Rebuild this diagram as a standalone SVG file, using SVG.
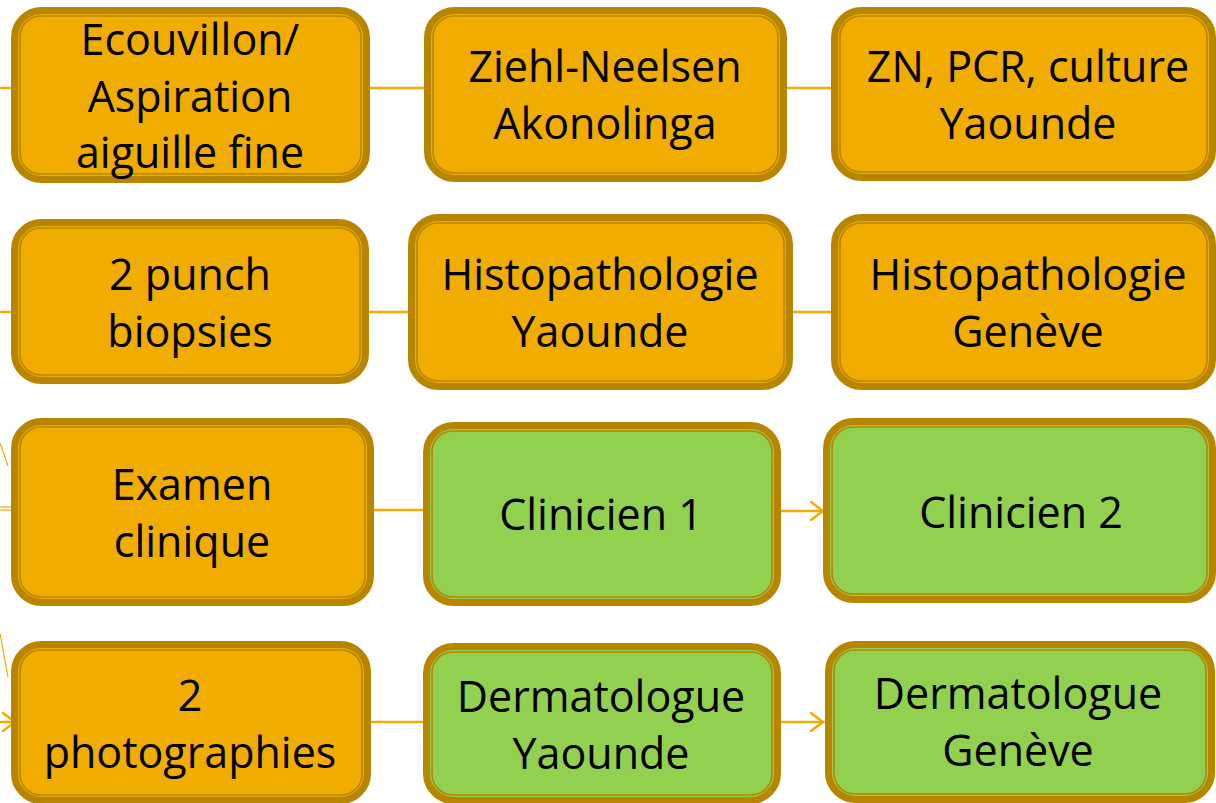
<svg xmlns="http://www.w3.org/2000/svg" width="1216" height="803" viewBox="0 0 1216 803">
<style>
.box-o{fill:#F0AC00;stroke:#B78500;stroke-width:7}
.box-g{fill:#92D050;stroke:#B78500;stroke-width:7}
.inner{fill:none;stroke:#B78500;stroke-width:1.6}
.conn{stroke:#F0AC00;stroke-width:2.5;fill:none}
.thin{stroke:#F0AC00;stroke-width:1.2;fill:none}
text{font-family:"Open Sans","Liberation Sans",sans-serif;font-size:43px;fill:#000;text-anchor:middle}
</style>
<defs>
<marker id="arr" markerWidth="16" markerHeight="20" refX="13" refY="10" orient="auto" markerUnits="userSpaceOnUse">
<path d="M1,1 L13,10 L1,19" fill="none" stroke="#F0AC00" stroke-width="2.5" stroke-linecap="round"/>
</marker>
</defs>
<g id="connectors">
<line class="conn" x1="0" y1="88" x2="12" y2="88"/>
<line class="conn" x1="369" y1="88" x2="425" y2="88"/>
<line class="conn" x1="786" y1="88" x2="832" y2="88"/>
<line class="conn" x1="0" y1="312" x2="12" y2="312"/>
<line class="conn" x1="368" y1="312" x2="409" y2="312"/>
<line class="conn" x1="792" y1="312" x2="832" y2="312"/>
<line class="thin" x1="0" y1="443" x2="8" y2="466"/>
<line class="thin" x1="0" y1="507" x2="20" y2="507"/>
<line class="thin" x1="0" y1="510" x2="20" y2="510"/>
<line class="conn" x1="373" y1="510" x2="424" y2="510"/>
<line class="conn" x1="780" y1="511" x2="823" y2="511" marker-end="url(#arr)"/>
<line class="thin" x1="0" y1="633" x2="8" y2="677"/>
<line class="conn" x1="0" y1="722" x2="15" y2="722" marker-end="url(#arr)"/>
<line class="conn" x1="370" y1="722" x2="424" y2="722"/>
<line class="conn" x1="780" y1="722" x2="823" y2="722" marker-end="url(#arr)"/>
</g>
<g id="n-ecouvillon">
<rect class="box-o" x="14.5" y="10.5" width="352" height="169" rx="27"/>
<rect class="inner" x="20" y="16" width="341" height="158" rx="21"/>
<text x="190" y="55">Ecouvillon/</text>
<text x="190" y="112">Aspiration</text>
<text x="190" y="168">aiguille fine</text>
</g>
<g id="n-ziehl">
<rect class="box-o" x="427.5" y="10.5" width="356" height="168" rx="27"/>
<rect class="inner" x="433" y="16" width="345" height="157" rx="21"/>
<text x="605" y="82">Ziehl-Neelsen</text>
<text x="605" y="139">Akonolinga</text>
</g>
<g id="n-zn">
<rect class="box-o" x="834.5" y="10.5" width="378" height="167" rx="27"/>
<rect class="inner" x="840" y="16" width="367" height="156" rx="21"/>
<text x="1028" y="82">ZN, PCR, culture</text>
<text x="1028" y="139">Yaounde</text>
</g>
<g id="n-punch">
<rect class="box-o" x="14.5" y="222.5" width="351" height="158" rx="27"/>
<rect class="inner" x="20" y="228" width="340" height="147" rx="21"/>
<text x="190" y="290">2 punch</text>
<text x="190" y="347">biopsies</text>
</g>
<g id="n-histo-y">
<rect class="box-o" x="411.5" y="217.5" width="378" height="169" rx="27"/>
<rect class="inner" x="417" y="223" width="367" height="158" rx="21"/>
<text x="600" y="290">Histopathologie</text>
<text x="600" y="347">Yaounde</text>
</g>
<g id="n-histo-g">
<rect class="box-o" x="834.5" y="217.5" width="378" height="169" rx="27"/>
<rect class="inner" x="840" y="223" width="367" height="158" rx="21"/>
<text x="1028" y="290">Histopathologie</text>
<text x="1028" y="347">Genève</text>
</g>
<g id="n-examen">
<rect class="box-o" x="14.5" y="421.5" width="356" height="181" rx="27"/>
<rect class="inner" x="20" y="427" width="345" height="170" rx="21"/>
<text x="192" y="500">Examen</text>
<text x="192" y="557">clinique</text>
</g>
<g id="n-clin1">
<rect class="box-g" x="426.5" y="425.5" width="351" height="177" rx="27"/>
<rect class="inner" x="432" y="431" width="340" height="166" rx="21"/>
<text x="601" y="530">Clinicien 1</text>
</g>
<g id="n-clin2">
<rect class="box-g" x="826.5" y="421.5" width="386" height="178" rx="27"/>
<rect class="inner" x="832" y="427" width="375" height="167" rx="21"/>
<text x="1021" y="528">Clinicien 2</text>
</g>
<g id="n-photo">
<rect class="box-o" x="14.5" y="644.5" width="353" height="156" rx="27"/>
<rect class="inner" x="20" y="650" width="342" height="145" rx="21"/>
<text x="190" y="711">2</text>
<text x="190" y="768">photographies</text>
</g>
<g id="n-derm-y">
<rect class="box-g" x="426.5" y="646.5" width="351" height="154" rx="27"/>
<rect class="inner" x="432" y="652" width="340" height="143" rx="21"/>
<text x="601" y="712">Dermatologue</text>
<text x="601" y="769">Yaounde</text>
</g>
<g id="n-derm-g">
<rect class="box-g" x="828.5" y="644.5" width="383" height="155" rx="27"/>
<rect class="inner" x="834" y="650" width="372" height="144" rx="21"/>
<text x="1018" y="709">Dermatologue</text>
<text x="1018" y="766">Genève</text>
</g>
</svg>
